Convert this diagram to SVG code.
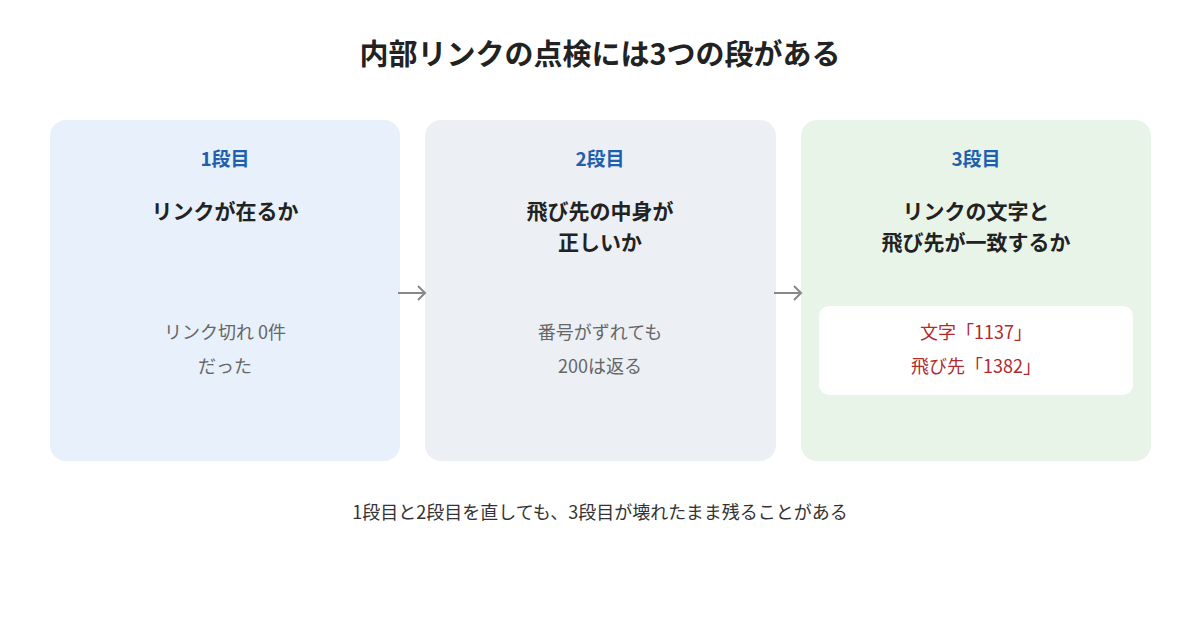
<svg xmlns="http://www.w3.org/2000/svg" width="1200" height="630" viewBox="0 0 1200 630">
<style>
text{font-family:"Noto Sans CJK JP","Noto Sans",sans-serif;text-anchor:middle}
.title{font-size:29px;font-weight:bold;fill:#222}
.step{font-size:19px;font-weight:bold;fill:#1f5fb0}
.head{font-size:21px;font-weight:bold;fill:#222}
.body{font-size:18px;fill:#666}
.red{font-size:18px;fill:#b22a2a}
.foot{font-size:18px;fill:#333}
.arr{stroke:#888;stroke-width:2;fill:none}
</style>
<rect width="1200" height="630" fill="#fff"/>
<text class="title" x="600" y="65">内部リンクの点検には3つの段がある</text>
<g id="node1">
<rect x="50" y="120" width="350" height="341" rx="16" fill="#e8f0fb"/>
<text class="step" x="225" y="166">1段目</text>
<text class="head" x="225" y="219">リンクが在るか</text>
<text class="body" x="225" y="339">リンク切れ 0件</text>
<text class="body" x="225" y="373">だった</text>
</g>
<g id="node2">
<rect x="425" y="120" width="351" height="341" rx="16" fill="#ecf0f4"/>
<text class="step" x="600" y="166">2段目</text>
<text class="head" x="600" y="219">飛び先の中身が</text>
<text class="head" x="600" y="250">正しいか</text>
<text class="body" x="600" y="339">番号がずれても</text>
<text class="body" x="600" y="373">200は返る</text>
</g>
<g id="node3">
<rect x="801" y="120" width="350" height="341" rx="16" fill="#e8f4e8"/>
<text class="step" x="976" y="166">3段目</text>
<text class="head" x="976" y="219">リンクの文字と</text>
<text class="head" x="976" y="250">飛び先が一致するか</text>
<rect x="819" y="306" width="314" height="89" rx="10" fill="#fff"/>
<text class="red" x="976" y="339">文字「1137」</text>
<text class="red" x="976" y="373">飛び先「1382」</text>
</g>
<g id="connectors">
<path class="arr" d="M398 293H425M418 286L425 293L418 300"/>
<path class="arr" d="M774 293H801M794 286L801 293L794 300"/>
</g>
<text class="foot" x="600" y="519">1段目と2段目を直しても、3段目が壊れたまま残ることがある</text>
</svg>
